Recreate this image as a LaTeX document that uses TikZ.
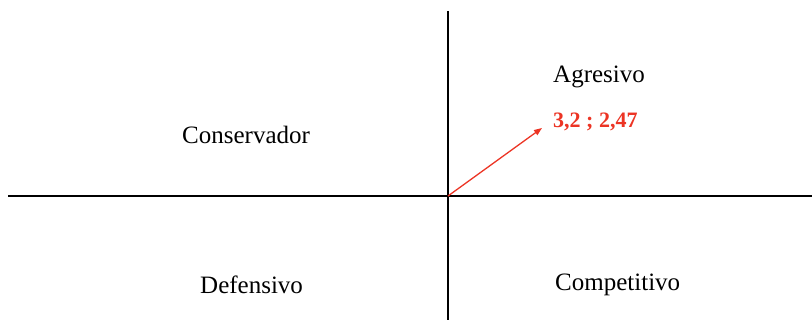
\documentclass[tikz,border=0pt]{standalone}
\usepackage{fontspec}
\setmainfont{Liberation Serif}
\usepackage{xcolor}
\usetikzlibrary{arrows.meta, positioning}
\definecolor{vecred}{RGB}{236,52,36}
\def\labelSize{\fontsize{25}{30}\selectfont}
\def\valueSize{\fontsize{22}{26}\selectfont}

\begin{document}
\begin{tikzpicture}[
    x=1pt, y=-1pt,
    >={Triangle[length=8pt,width=6pt]},
    axis/.style={line width=1.8pt},
    quadrant/.style={font=\labelSize, anchor=base west, inner sep=0pt},
    vector/.style={->, vecred, line width=1.3pt}
]
\useasboundingbox (0,0) rectangle (812,320);
% axes
\coordinate (top) at (448,11);
\coordinate (bottom) at (448,320);
\coordinate (left) at (8,196);
\coordinate (right) at (812,196);
\coordinate (o) at (448,196);
\draw[line width=1.5pt] (top) -- (bottom);
\draw[axis] (left) -- (right);

% quadrants
\node[quadrant] (agr) at (553,83) {Agresivo};
\node[quadrant] (con) at (182,144) {Conservador};
\node[quadrant] (def) at (200,294) {Defensivo};
\node[quadrant] (com) at (555,291) {Competitivo};

% position
\node[quadrant, font=\valueSize\bfseries, text=vecred] (val) at (553,128) {3,2 ; 2,47};
\coordinate (tip) at (542,128);
\draw[vector] (o) -- (tip);
\end{tikzpicture}
\end{document}
